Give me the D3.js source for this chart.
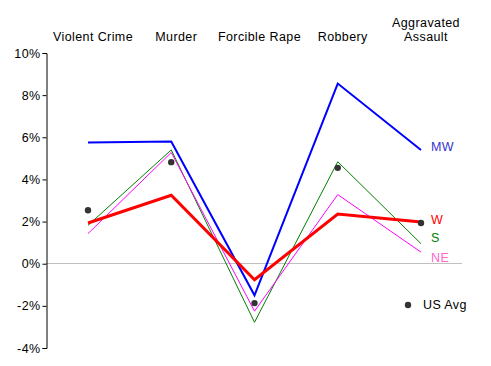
<!DOCTYPE html>
<html><head><meta charset="utf-8">
<script src="https://cdn.jsdelivr.net/npm/d3@7"></script>
<style>body{margin:0;background:#fff}svg{display:block;font-family:"Liberation Sans",Arial,sans-serif}text{letter-spacing:0.4px}</style>
</head><body><svg id="c" width="491" height="366"></svg>
<script>
const categories = ["Violent Crime","Murder","Forcible Rape","Robbery","Aggravated Assault"];
const categoryLines = [["Violent Crime"],["Murder"],["Forcible Rape"],["Robbery"],["Aggravated","Assault"]];
const mw = [5.75, 5.8, -1.5, 8.55, 5.4];
const s  = [1.82, 5.4, -2.78, 4.84, 0.95];
const ne = [1.43, 5.28, -2.25, 3.28, 0.55];
const w  = [1.93, 3.25, -0.76, 2.36, 1.98];
const usAvg = [2.54, 4.82, -1.87, 4.55, 1.93];
const yTicks = [10, 8, 6, 4, 2, 0, -2, -4];

const svg = d3.select("#c");
const x = d3.scalePoint().domain(categories).range([88, 421]);
const y = d3.scaleLinear().domain([-4, 10]).range([348, 53]);

svg.append("line").attr("x1", 46).attr("x2", 462).attr("y1", y(0)).attr("y2", y(0))
  .attr("stroke", "#c0c0c0").attr("stroke-width", 1).attr("shape-rendering","crispEdges");

const ax = svg.append("g").attr("transform", "translate(46.5,0)")
  .call(d3.axisLeft(y).tickValues(yTicks).tickSize(4).tickPadding(2).tickFormat(d => d + "%"));
ax.select(".domain").attr("stroke", "#000");
ax.selectAll("text").attr("font-size", 12.5).attr("fill", "#000").attr("font-family", '"Liberation Sans",Arial,sans-serif');

categoryLines.forEach((lines, i) => {
  const t = svg.append("text").attr("x", x(categories[i]) + 5).attr("text-anchor", "middle")
    .attr("font-size", 12.5).attr("fill", "#000");
  lines.forEach((ln, j) => {
    t.append("tspan").attr("x", x(categories[i]) + 5)
      .attr("y", 41 - (lines.length - 1 - j) * 14).text(ln);
  });
});

const line = d3.line().x((d, i) => x(categories[i])).y(d => y(d));
const series = [
  {vals: s, color: "#008000", width: 1},
  {vals: ne, color: "#ff00ff", width: 1},
  {vals: mw, color: "#0000ff", width: 2},
  {vals: w, color: "#ff0000", width: 3},
];
series.forEach(sr => {
  svg.append("path").attr("d", line(sr.vals)).attr("fill", "none")
    .attr("stroke", sr.color).attr("stroke-width", sr.width);
});

svg.selectAll("circle.us").data(usAvg).enter().append("circle")
  .attr("cx", (d, i) => x(categories[i])).attr("cy", d => y(d)).attr("r", 3.2).attr("fill", "#333");

const legend = [
  {t: "MW", c: "#3333cc", y: 151},
  {t: "W", c: "#ff0000", y: 224},
  {t: "S", c: "#008000", y: 242},
  {t: "NE", c: "#ff66cc", y: 262},
];
legend.forEach(l => svg.append("text").attr("x", 431).attr("y", l.y).attr("font-size", 12.5).attr("fill", l.c).text(l.t));
svg.append("circle").attr("cx", 408).attr("cy", 305).attr("r", 3.2).attr("fill", "#333");
svg.append("text").attr("x", 423).attr("y", 309).attr("font-size", 12.5).attr("fill", "#000").text("US Avg");
</script></body></html>
